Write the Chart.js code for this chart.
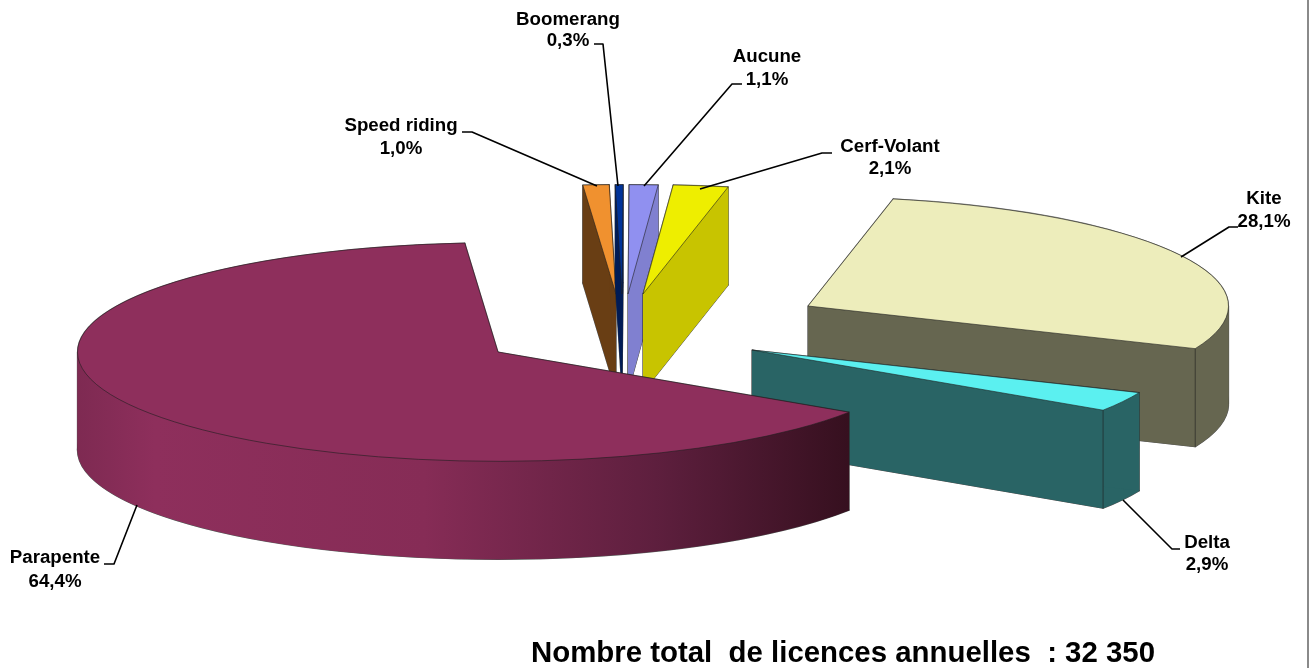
<!DOCTYPE html>
<html>
<head>
<meta charset="utf-8">
<style>
html, body { margin: 0; padding: 0; background: #fff; }
#box { position: relative; width: 1310px; height: 668px; }
</style>
<script src="https://cdn.jsdelivr.net/npm/chart.js@4"></script>
</head>
<body>
<div id="box"><canvas id="pie-canvas" width="1310" height="668"></canvas></div>
<script>
var categories = ['Parapente', 'Speed riding', 'Boomerang', 'Aucune', 'Cerf-Volant', 'Kite', 'Delta'];
var shares = [64.4, 1.0, 0.3, 1.1, 2.1, 28.1, 2.9];
var shareLabels = ['64,4%', '1,0%', '0,3%', '1,1%', '2,1%', '28,1%', '2,9%'];
var topColors = ['#8E2F5C', '#F0912F', '#003399', '#9090F0', '#EEEE00', '#EDEDBB', '#5BF0F0'];
var wallColors = ['#8E2F5C', '#693E14', '#001B55', '#8080D0', '#C8C400', '#666650', '#296465'];
var totalText = 'Nombre total  de licences annuelles  : 32 350';

// pie look: tilt, thickness and how far each slice is pulled away from the pie centre
var pieCentre = [498, 352];
var tilt = 0.26;
var depth = 98;
var explode = [[0, 0], [118, -58], [124, -58], [130, -58], [145, -58], [310, -46], [254, -2]];
var drawOrder = [1, 2, 3, 4, 5, 6, 0];

// label boxes and leader lines: [centre x, first line y, second line y], then the polyline
var labelPos = [[55, 558, 582], [401, 126, 149], [568, 20, 41], [767, 57, 80], [890, 147, 169], [1264, 199, 222], [1207, 543, 565]];
var leaders = [
    [[104, 564], [114, 564], [137, 505]],
    [[462, 132], [472, 132], [597, 186]],
    [[594, 44], [603, 44], [618, 186]],
    [[742, 84], [732, 84], [644, 186]],
    [[832, 153], [822, 153], [700, 189]],
    [[1238, 227], [1229, 227], [1181, 257]],
    [[1180, 549], [1172, 549], [1123, 500]]
];

function squash(ctx, arc, shift, down) {
    ctx.translate(pieCentre[0] + shift[0], pieCentre[1] + shift[1] + down);
    ctx.scale(1, tilt);
    ctx.translate(-arc.x, -arc.y);
}

// arc geometry comes from the chart, only squashed and moved here
function traceSector(ctx, arc, shift, down) {
    ctx.save();
    squash(ctx, arc, shift, down);
    ctx.beginPath();
    ctx.moveTo(arc.x, arc.y);
    ctx.arc(arc.x, arc.y, arc.outerRadius, arc.startAngle, arc.endAngle);
    ctx.closePath();
    ctx.restore();
}

function traceRim(ctx, arc, shift, from, to) {
    ctx.save();
    squash(ctx, arc, shift, 0);
    ctx.beginPath();
    ctx.arc(arc.x, arc.y, arc.outerRadius, from, to);
    ctx.restore();
    ctx.save();
    squash(ctx, arc, shift, depth);
    ctx.arc(arc.x, arc.y, arc.outerRadius, to, from, true);
    ctx.closePath();
    ctx.restore();
}

function edgePoint(arc, angle, shift) {
    return [
        pieCentre[0] + shift[0] + arc.outerRadius * Math.cos(angle),
        pieCentre[1] + shift[1] + tilt * arc.outerRadius * Math.sin(angle)
    ];
}

function traceCutFace(ctx, arc, angle, shift) {
    var p = edgePoint(arc, angle, shift);
    var c = [pieCentre[0] + shift[0], pieCentre[1] + shift[1]];
    ctx.beginPath();
    ctx.moveTo(c[0], c[1]);
    ctx.lineTo(p[0], p[1]);
    ctx.lineTo(p[0], p[1] + depth);
    ctx.lineTo(c[0], c[1] + depth);
    ctx.closePath();
}

// every piece of the side of a slice, called once for the outline and once for the fill
function eachWallPiece(ctx, arc, shift, paint) {
    traceSector(ctx, arc, shift, depth);
    paint();
    // the rim band twists where the ellipse turns, so it is cut there
    var from = arc.startAngle;
    for (var k = Math.floor(arc.startAngle / Math.PI) + 1; k * Math.PI < arc.endAngle; k++) {
        traceRim(ctx, arc, shift, from, k * Math.PI);
        paint();
        from = k * Math.PI;
    }
    traceRim(ctx, arc, shift, from, arc.endAngle);
    paint();
    traceCutFace(ctx, arc, arc.startAngle, shift);
    paint();
    traceCutFace(ctx, arc, arc.endAngle, shift);
    paint();
}

var pie3d = {
    id: 'pie3d',
    beforeDatasetsDraw: function (chart) {
        var ctx = chart.ctx;
        var arcs = chart.getDatasetMeta(0).data;
        var shade = ctx.createLinearGradient(78, 0, 848, 0);
        shade.addColorStop(0, '#7E2A52');
        shade.addColorStop(0.1, '#8E2F5C');
        shade.addColorStop(0.45, '#862C56');
        shade.addColorStop(0.75, '#5E1F3E');
        shade.addColorStop(1, '#36101F');
        ctx.lineJoin = 'round';

        drawOrder.forEach(function (i) {
            var arc = arcs[i];
            var shift = explode[i];

            // outline first, the fill covers its inner half so only the silhouette stays
            ctx.strokeStyle = 'rgba(40,40,40,0.55)';
            ctx.lineWidth = 1.2;
            eachWallPiece(ctx, arc, shift, function () { ctx.stroke(); });
            ctx.fillStyle = i === 0 ? shade : wallColors[i];
            eachWallPiece(ctx, arc, shift, function () { ctx.fill(); });

            traceSector(ctx, arc, shift, 0);
            ctx.fillStyle = topColors[i];
            ctx.fill();
            ctx.strokeStyle = 'rgba(30,30,30,0.75)';
            ctx.lineWidth = 0.8;
            ctx.stroke();

            // corner where cut face and rim meet
            if (i === 5 || i === 6) {
                var q = edgePoint(arc, arc.endAngle, shift);
                ctx.beginPath();
                ctx.moveTo(q[0], q[1]);
                ctx.lineTo(q[0], q[1] + depth);
                ctx.stroke();
            }
        });
        return false;
    },
    afterDraw: function (chart) {
        var ctx = chart.ctx;
        ctx.save();
        ctx.strokeStyle = '#000';
        ctx.lineWidth = 1.6;
        leaders.forEach(function (pts) {
            ctx.beginPath();
            pts.forEach(function (p, k) {
                if (k === 0) ctx.moveTo(p[0], p[1]); else ctx.lineTo(p[0], p[1]);
            });
            ctx.stroke();
        });
        ctx.fillStyle = '#000';
        ctx.font = 'bold 18.7px "Liberation Sans"';
        ctx.textAlign = 'center';
        ctx.textBaseline = 'middle';
        categories.forEach(function (name, i) {
            ctx.fillText(name, labelPos[i][0], labelPos[i][1]);
            ctx.fillText(shareLabels[i], labelPos[i][0], labelPos[i][2]);
        });
        ctx.font = 'bold 29.4px "Liberation Sans"';
        ctx.textAlign = 'left';
        ctx.textBaseline = 'alphabetic';
        ctx.fillText(totalText, 531, 662);
        ctx.strokeStyle = '#8a8a8a';
        ctx.lineWidth = 2;
        ctx.beginPath();
        ctx.moveTo(1308, 0);
        ctx.lineTo(1308, 668);
        ctx.stroke();
        ctx.restore();
    }
};

new Chart('pie-canvas', {
    type: 'pie',
    data: {
        labels: categories,
        datasets: [{
            data: shares,
            backgroundColor: topColors
        }]
    },
    options: {
        responsive: false,
        animation: false,
        rotation: 123.4,
        radius: 420.5,
        plugins: {
            legend: { display: false },
            title: { display: false },
            tooltip: { enabled: false }
        }
    },
    plugins: [pie3d]
});
</script>
</body>
</html>
